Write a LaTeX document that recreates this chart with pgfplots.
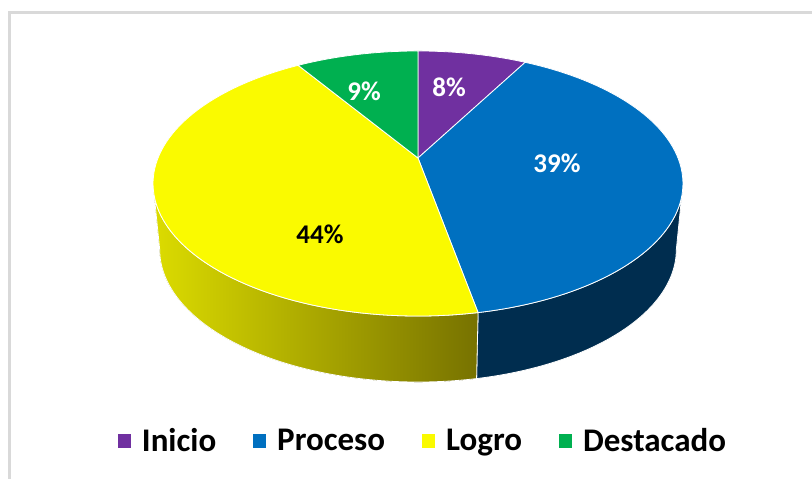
\documentclass[border=0pt]{standalone}
\usepackage{pgfplots}
\usepackage{pgfplotstable}
\pgfplotsset{compat=1.18}
\usepgfplotslibrary{fillbetween}
\usepackage{fontspec}
\setmainfont{Carlito}
\definecolor{cIni}{HTML}{7030A0}
\definecolor{cPro}{HTML}{0070C0}
\definecolor{cLog}{HTML}{FAFA00}
\definecolor{cDes}{HTML}{00B050}
\definecolor{cProSide}{HTML}{002D4F}
\definecolor{cLogL}{HTML}{DCDC00}
\definecolor{cLogR}{HTML}{777200}
\definecolor{cFrame}{HTML}{D9D9D9}

\pgfplotstableread{
label value
Inicio 8
Proceso 39
Logro 44
Destacado 9
}\piedata
\pgfplotstablegetelem{0}{value}\of\piedata\let\vA\pgfplotsretval%
\pgfplotstablegetelem{1}{value}\of\piedata\let\vB\pgfplotsretval%
\pgfplotstablegetelem{2}{value}\of\piedata\let\vC\pgfplotsretval%
\pgfplotstablegetelem{3}{value}\of\piedata\let\vD\pgfplotsretval%
\pgfmathsetmacro\aA{3.6*\vA}%
\pgfmathsetmacro\aB{\aA+3.6*\vB}%
\pgfmathsetmacro\aC{\aB+3.6*\vC}%
\pgfmathsetmacro\aD{\aC+3.6*\vD}%

\begin{document}%
\begin{tikzpicture}
\begin{axis}[
  width=812pt, height=479pt, scale only axis,
  xmin=0, xmax=812, ymin=0, ymax=479, y dir=reverse,
  hide axis, clip=false,
  samples=90,
  declare function={
    px(\t)=418+260*sin(\t)/(1+0.1925*cos(\t));
    py(\t)=(158-97.2*cos(\t))/(1+0.1925*cos(\t));
    bx(\t)=418+0.975*260*sin(\t)/(1+0.1925*cos(\t));
    by(\t)=66+(158-97.2*cos(\t))/(1+0.1925*cos(\t));
  },
  legend columns=4,
  legend style={at={(axis cs:423,441)}, anchor=center, draw=none, fill=none,
    font=\bfseries\fontsize{33}{33}\selectfont,
    /tikz/every odd column/.append style={column sep=9pt},
    /tikz/every even column/.append style={column sep=35pt}},
  legend image code/.code={\fill[#1,draw=none] (0pt,-7pt) rectangle (13pt,7pt);},
]
\draw[cFrame, line width=3pt] (axis cs:9.5,479) -- (axis cs:9.5,12.5) -- (axis cs:812,12.5);

% side faces
\addplot[name path=PT, draw=none, forget plot, domain=101.1:\aB] ({px(x)},{py(x)});
\addplot[name path=PB, draw=none, forget plot, domain=101.1:\aB] ({bx(x)},{by(x)});
\addplot[fill=cProSide, draw=white, line width=0.8pt, forget plot] fill between[of=PT and PB];
\addplot[name path=LT, draw=none, forget plot, domain=\aB:258.9] ({px(x)},{py(x)});
\addplot[name path=LB, draw=none, forget plot, domain=\aB:258.9] ({bx(x)},{by(x)});
\addplot[left color=cLogL, right color=cLogR, draw=white, line width=0.8pt, forget plot] fill between[of=LT and LB];

% top faces
\addplot[fill=cIni, draw=white, line width=0.8pt, domain=0:\aA] ({px(x)},{py(x)}) -- (axis cs:418,158) -- cycle;
\addlegendentry{Inicio}
\addplot[fill=cPro, draw=white, line width=0.8pt, domain=\aA:\aB] ({px(x)},{py(x)}) -- (axis cs:418,158) -- cycle;
\addlegendentry{Proceso}
\addplot[fill=cLog, draw=white, line width=0.8pt, domain=\aB:\aC] ({px(x)},{py(x)}) -- (axis cs:418,158) -- cycle;
\addlegendentry{Logro}
\addplot[fill=cDes, draw=white, line width=0.8pt, domain=\aC:\aD] ({px(x)},{py(x)}) -- (axis cs:418,158) -- cycle;
\addlegendentry{Destacado}

\node[text=white, font=\bfseries\fontsize{27}{27}\selectfont] at (axis cs:449,87) {8\%};
\node[text=white, font=\bfseries\fontsize{27}{27}\selectfont] at (axis cs:364,91) {9\%};
\node[text=white, font=\bfseries\fontsize{27}{27}\selectfont] at (axis cs:557,163) {39\%};
\node[text=black, font=\bfseries\fontsize{27}{27}\selectfont] at (axis cs:320,234) {44\%};
\end{axis}
\pgfresetboundingbox
\path (current axis.south west) rectangle (current axis.north east);
\end{tikzpicture}%
\end{document}
